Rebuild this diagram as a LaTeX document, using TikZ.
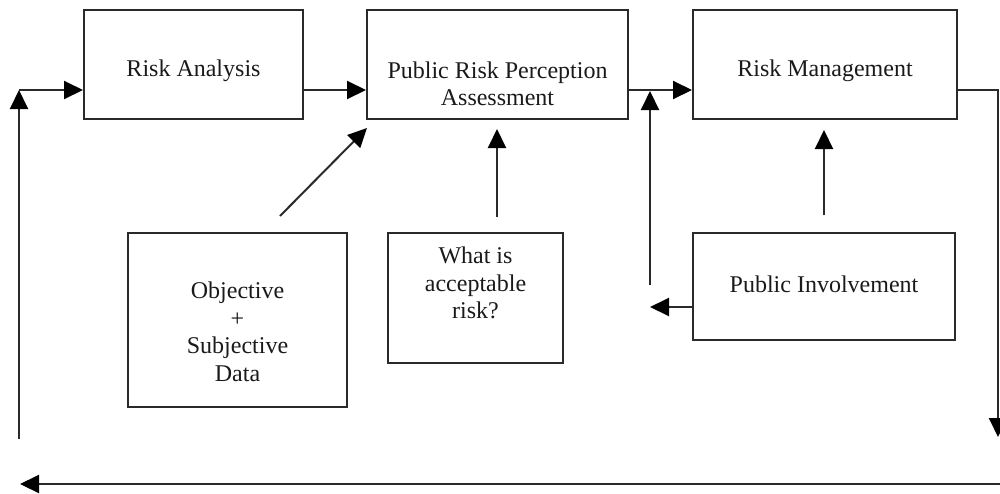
\documentclass[tikz,border=0pt]{standalone}
\usepackage{fontspec}
\setmainfont{Liberation Serif}
\usetikzlibrary{arrows.meta,calc,fit}
\definecolor{linec}{HTML}{2A2A2A}
\definecolor{txtc}{HTML}{1A1A1A}
\begin{document}
\begin{tikzpicture}[x=0.5pt,y=-0.5pt,
  box/.style={draw=linec,line width=1pt,inner sep=0pt},
  lbl/.style={font=\fontsize{12}{13.8}\selectfont,text=txtc,inner sep=0pt,align=center},
  arr/.style={draw=linec,line width=1pt,line join=miter,-{Triangle[length=9.5pt,width=9pt,color=black]}}]
\clip (0,0) rectangle (1000,493);
\fill[white] (0,0) rectangle (1000,493);
% boxes
\node[box,fit={(84,10)(303,119)}] (RA) {};
\node[box,fit={(367,10)(628,119)}] (PRPA) {};
\node[box,fit={(693,10)(957,119)}] (RM) {};
\node[box,fit={(128,233)(347,407)}] (OSD) {};
\node[box,fit={(388,233)(563,363)}] (WAR) {};
\node[box,fit={(693,233)(955,340)}] (PI) {};
% labels
\node[lbl,anchor=base] (tRA) at (193.5,76) {Risk Analysis};
\node[lbl,anchor=north] (tPRPA) at (497.5,61) {Public Risk Perception\\Assessment};
\node[lbl,anchor=base] (tRM) at (825,76) {Risk Management};
\node[lbl,anchor=north] (tOSD) at (237.5,281.5) {Objective\\+\\Subjective\\Data};
\node[lbl,anchor=north] (tWAR) at (475.5,246.5) {What is\\acceptable\\risk?};
\node[lbl,anchor=base] (tPI) at (824,292) {Public Involvement};
% coordinates
\coordinate (h) at (0,90);
\coordinate (L0) at (19,439);
\coordinate (L1) at (19,90);
\coordinate (R1) at (998,90);
\coordinate (R2) at (998,437);
\coordinate (B1) at (1002,484);
\coordinate (B0) at (20,484);
\coordinate (D0) at (280,216);
\coordinate (D1) at (367,128);
\coordinate (W0) at (497,217);
\coordinate (W1) at (497,129);
\coordinate (P0) at (650,307);
\coordinate (V0) at (650,285);
\coordinate (V1) at (650,91);
% connectors
\draw[arr] (L0) -- (L1);
\draw[arr] (L1) -- (L1 -| RA.west);
\draw[arr] (RA.east |- h) -- (PRPA.west |- h);
\draw[arr] (PRPA.east |- h) -- (RM.west |- h);
\draw[arr] (RM.east |- h) -- (R1) -- (R2);
\draw[arr] (B1) -- (B0);
\draw[arr] (D0) -- (D1);
\draw[arr] (W0) -- (W1);
\draw[arr,shorten <=8.5pt,shorten >=5pt] (PI.north) -- (PI.north |- RM.south);
\draw[arr] (PI.west |- P0) -- (P0);
\draw[arr] (V0) -- (V1);
\end{tikzpicture}
\end{document}
